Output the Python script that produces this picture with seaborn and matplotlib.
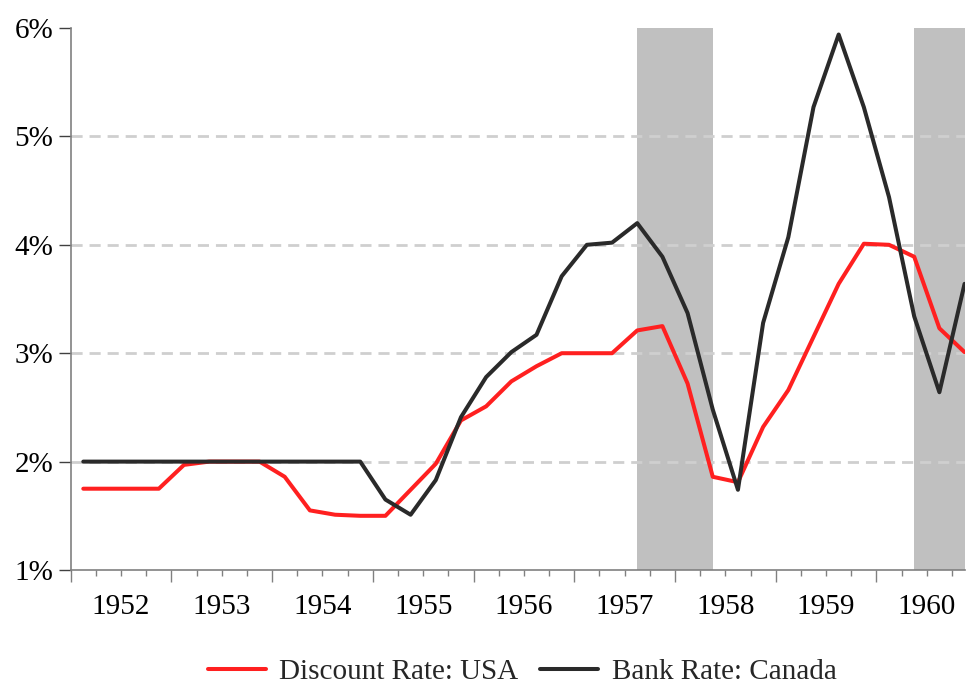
import numpy as np
import pandas as pd
import seaborn as sns
import matplotlib.pyplot as plt
from matplotlib.ticker import FixedLocator, FixedFormatter

# quarterly data, 1952Q1 - 1960Q4 (percent)
years = list(range(1952, 1961))
quarters = [1, 2, 3, 4]
usa_discount = [
    1.75, 1.75, 1.75, 1.75,
    1.97, 2.00, 2.00, 2.00,
    1.86, 1.55, 1.51, 1.50,
    1.50, 1.74, 1.98, 2.38,
    2.51, 2.74, 2.88, 3.00,
    3.00, 3.00, 3.21, 3.25,
    2.72, 1.86, 1.81, 2.32,
    2.66, 3.15, 3.64, 4.01,
    4.00, 3.89, 3.23, 3.01,
]
canada_bank = [
    2.00, 2.00, 2.00, 2.00,
    2.00, 2.00, 2.00, 2.00,
    2.00, 2.00, 2.00, 2.00,
    1.65, 1.51, 1.83, 2.41,
    2.78, 3.01, 3.17, 3.71,
    4.00, 4.02, 4.20, 3.89,
    3.37, 2.48, 1.74, 3.28,
    4.07, 5.27, 5.94, 5.27,
    4.44, 3.34, 2.64, 3.64,
]
# recession shading (start, end) in decimal years
recessions = [(1957.625, 1958.375), (1960.375, 1960.875)]
y_ticks = [1, 2, 3, 4, 5, 6]

dates = [y + (q - 0.5) / 4 for y in years for q in quarters]
df = pd.DataFrame({
    "date": dates * 2,
    "rate": usa_discount + canada_bank,
    "series": ["Discount Rate: USA"] * len(dates) + ["Bank Rate: Canada"] * len(dates),
})

sns.set_theme(style="white")
plt.rcParams["font.family"] = ["Liberation Serif", "DejaVu Serif"]

fig = plt.figure(figsize=(9.67, 6.9), dpi=100)
ax = fig.add_axes([0.0731, 0.1739, 0.9249, 0.7855])

for start, end in recessions:
    ax.axvspan(start, end, color="#c0c0c0", lw=0, zorder=0)

for y in y_ticks[1:-1]:
    ax.axhline(y, color="#cfcfcf", lw=2, ls=(0, (4, 2.5)), zorder=0.5)

sns.lineplot(
    data=df, x="date", y="rate", hue="series",
    palette={"Discount Rate: USA": "#ff2020", "Bank Rate: Canada": "#2a2a2a"},
    linewidth=2.9, legend=False, ax=ax,
)

ax.set_xlim(1952, 1960.88)
ax.set_ylim(1, 6)
ax.set_xlabel("")
ax.set_ylabel("")

# year boundaries = long ticks, quarter boundaries = short ticks, labels centred on year
ax.xaxis.set_major_locator(FixedLocator(years))
ax.xaxis.set_major_formatter(FixedFormatter([""] * len(years)))
minor = [y + f for y in years for f in (0.25, 0.5, 0.75)]
minor_labels = [str(y) if f == 0.5 else "" for y in years for f in (0.25, 0.5, 0.75)]
ax.xaxis.set_minor_locator(FixedLocator(minor))
ax.xaxis.set_minor_formatter(FixedFormatter(minor_labels))

ax.set_yticks(y_ticks)
ax.set_yticklabels([f"{v}%" for v in y_ticks])

ax.tick_params(axis="x", which="major", length=8.6, width=1, color="#808080",
               bottom=True, labelbottom=False)
ax.tick_params(axis="x", which="minor", length=4.3, width=1, color="#808080",
               bottom=True, labelsize=21, pad=13, labelcolor="black")
ax.tick_params(axis="y", length=8.6, width=1, color="#404040", left=True,
               labelsize=21, pad=4, labelcolor="black")

for side in ["top", "right"]:
    ax.spines[side].set_visible(False)
for side in ["left", "bottom"]:
    ax.spines[side].set_color("#808080")
    ax.spines[side].set_linewidth(1.2)

handles = [
    plt.Line2D([], [], color="#ff2020", lw=2.9),
    plt.Line2D([], [], color="#2a2a2a", lw=2.9),
]
fig.legend(
    handles, ["Discount Rate: USA", "Bank Rate: Canada"],
    loc="center", bbox_to_anchor=(522 / 967, 1 - 672 / 690), ncol=2,
    frameon=False, fontsize=21, handlelength=2.0, handletextpad=0.45,
    columnspacing=0.75, borderpad=0.2,
)

fig.savefig("out.png", dpi=100)
